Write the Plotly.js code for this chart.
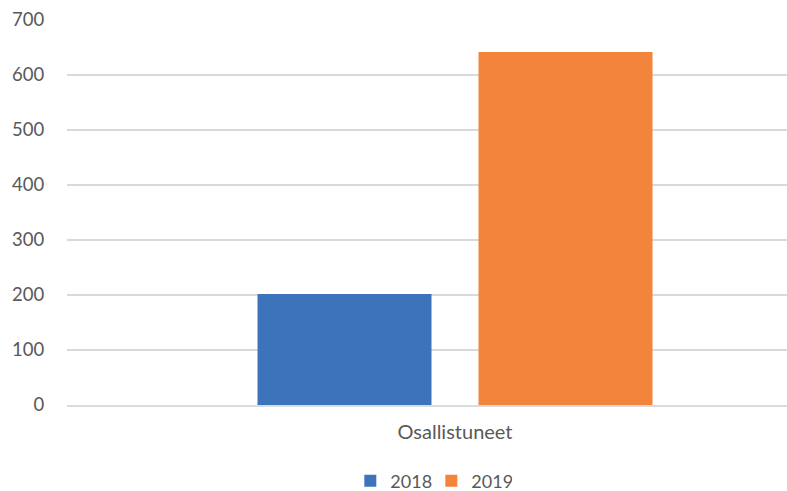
<!DOCTYPE html>
<html>
<head>
<meta charset="utf-8">
<script src="https://cdn.plot.ly/plotly-3.0.1.min.js"></script>
<style>html,body{margin:0;padding:0;background:#fff;}#chart{width:787px;height:491px;}</style>
</head>
<body>
<div id="chart"></div>
<script>
const categories = ["Osallistuneet"];
const seriesNames = ["2018", "2019"];
const values2018 = [202];
const values2019 = [642];
const yTicks = [0, 100, 200, 300, 400, 500, 600, 700];

const textColor = "#595959";
const fontFamily = "Lato, 'Open Sans', sans-serif";

const traces = [
  {type: "bar", name: seriesNames[0], x: categories, y: values2018, marker: {color: "#3C73BA"}, hoverinfo: "y"},
  {type: "bar", name: seriesNames[1], x: categories, y: values2019, marker: {color: "#F2843C"}, hoverinfo: "y"}
];

const H = 491;

const layout = {
  width: 787, height: 491,
  margin: {l: 67, r: 0, t: 20, b: 86},
  paper_bgcolor: "#fff", plot_bgcolor: "#fff",
  font: {family: fontFamily, size: 18, color: textColor},
  barmode: "group",
  bargap: 0.4304,
  bargroupgap: 0.2127,
  showlegend: true,
  legend: {orientation: "h", x: 0.506, xanchor: "center", yref: "container", y: (H - 481) / H, yanchor: "middle",
           entrywidth: 36, entrywidthmode: "pixels",
           font: {family: fontFamily, size: 18, color: textColor}, traceorder: "normal"},
  xaxis: {
    type: "category", range: [-0.5, 0.4278], fixedrange: true,
    showgrid: false, zeroline: false,
    showline: true, linecolor: "rgba(210,210,210,0.8)", linewidth: 2, layer: "above traces",
    ticks: "outside", ticklen: 8, tickcolor: "rgba(0,0,0,0)",
    tickfont: {family: fontFamily, size: 20, color: textColor}
  },
  yaxis: {
    range: [0, 700], tickvals: yTicks, ticktext: yTicks.map(String), fixedrange: true,
    showgrid: true, gridcolor: "#D9D9D9", gridwidth: 1.5,
    zeroline: false, showline: false,
    ticks: "outside", ticklen: 18, tickcolor: "rgba(0,0,0,0)",
    tickfont: {family: fontFamily, size: 18.5, color: textColor}
  }
};

Plotly.newPlot("chart", traces, layout, {displayModeBar: false, staticPlot: true});
</script>
</body>
</html>
